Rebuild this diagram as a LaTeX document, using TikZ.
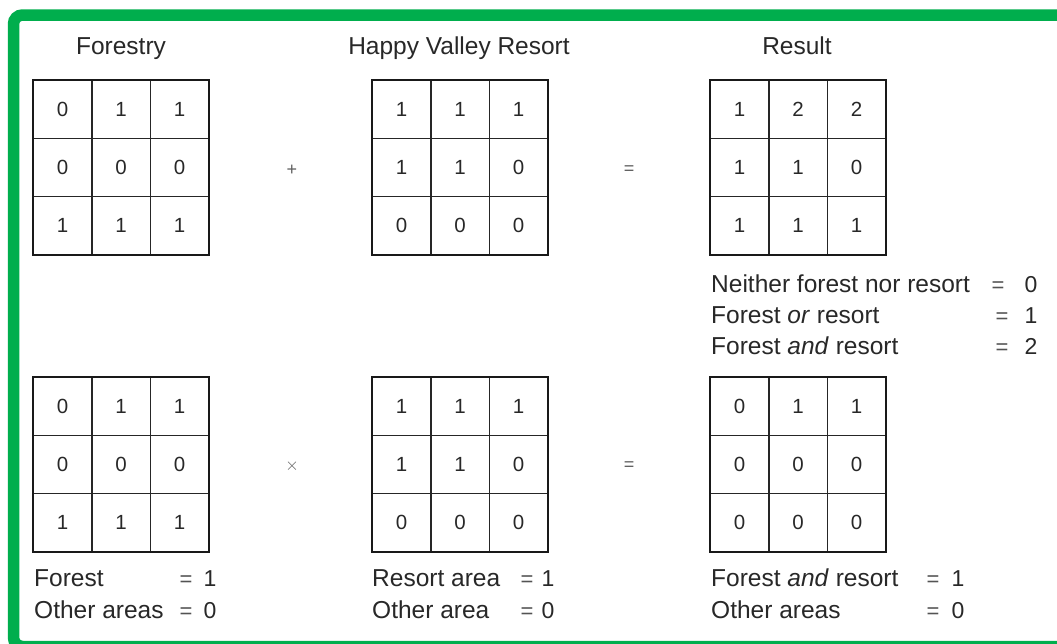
\documentclass[tikz,border=0pt]{standalone}
\usepackage{fontspec}
\setmainfont{Liberation Sans}
\definecolor{framegreen}{RGB}{0,174,77}
\definecolor{ink}{RGB}{40,40,40}
\tikzset{
  gridouter/.style={draw=black!90, line width=2.4pt},
  gridinner/.style={draw=black!85, line width=1.4pt},
  cellval/.style={text=ink, inner sep=0pt, font=\fontsize{20.5}{24}\selectfont},
  lbl/.style={text=ink, inner sep=0pt, anchor=base west, font=\fontsize{24.5}{29}\selectfont},
  eqs/.style={text=ink!80, inner sep=0pt, anchor=base, font=\fontsize{22}{26}\selectfont},
  num/.style={text=ink, inner sep=0pt, anchor=base, font=\fontsize{23}{27}\selectfont},
  ttl/.style={text=ink, inner sep=0pt, anchor=base, font=\fontsize{24.5}{29}\selectfont},
  op/.style={text=ink!75, inner sep=0pt, font=\fontsize{18}{21}\selectfont},
}
% #1 name, #2 left x, #3 top y, #4 nine values row by row
\newcommand{\valgrid}[4]{%
  \draw[gridinner] (#2+59,#3) -- (#2+59,#3+175) (#2+117.5,#3) -- (#2+117.5,#3+175)
                   (#2,#3+58.3) -- (#2+176,#3+58.3) (#2,#3+116.7) -- (#2+176,#3+116.7);
  \draw[gridouter] (#2,#3) rectangle (#2+176,#3+175);
  \foreach \v [count=\i from 0] in {#4} {
    \pgfmathtruncatemacro\rr{\i/3}
    \pgfmathtruncatemacro\cc{mod(\i,3)}
    \node[cellval] (#1-\i) at (#2+29.5+\cc*58.5, #3+29.2+\rr*58.3) {\v};
  }
}
\begin{document}
\begin{tikzpicture}[x=1pt,y=-1pt]
\useasboundingbox (0,0) rectangle (1057,643);
\fill[white] (0,0) rectangle (1057,643);
\begin{scope}
  \clip (0,0) rectangle (1057,643);
  \draw[framegreen, line width=11.5pt, rounded corners=9pt] (13.5,15) rectangle (1090,646.5);
\end{scope}

% column titles
\node[ttl] (tforest) at (121,54) {Forestry};
\node[ttl] (thappy)  at (459,54) {Happy Valley Resort};
\node[ttl] (tresult) at (797,54) {Result};

% addition row
\valgrid{fa}{33}{80}{0,1,1,0,0,0,1,1,1}
\valgrid{ra}{372}{80}{1,1,1,1,1,0,0,0,0}
\valgrid{sa}{710}{80}{1,2,2,1,1,0,1,1,1}
\node[op] (plus) at (292,170) {+};
\node[op] (eqa)  at (629,170) {=};

% legend of the sum
\node[lbl] (l1) at (711,292) {Neither forest nor resort};
\node[eqs] (l1e) at (998,292) {=};
\node[num] (l1v) at (1031,292) {0};
\node[lbl] (l2) at (711,323) {Forest \textit{or} resort};
\node[eqs] (l2e) at (1002,323) {=};
\node[num] (l2v) at (1031,323) {1};
\node[lbl] (l3) at (711,354) {Forest \textit{and} resort};
\node[eqs] (l3e) at (1002,354) {=};
\node[num] (l3v) at (1031,354) {2};

% multiplication row
\valgrid{fb}{33}{377}{0,1,1,0,0,0,1,1,1}
\valgrid{rb}{372}{377}{1,1,1,1,1,0,0,0,0}
\valgrid{pb}{710}{377}{0,1,1,0,0,0,0,0,0}
\node[op] (times) at (292,466) {$\times$};
\node[op] (eqb)   at (629,466) {=};

% legends under the multiplication grids
\node[lbl] (f1) at (34,586) {Forest};
\node[eqs] (f1e) at (186,586) {=};
\node[num] (f1v) at (210,586) {1};
\node[lbl] (f2) at (34,618) {Other areas};
\node[eqs] (f2e) at (186,618) {=};
\node[num] (f2v) at (210,618) {0};

\node[lbl] (r1) at (372,586) {Resort area};
\node[eqs] (r1e) at (527,586) {=};
\node[num] (r1v) at (548,586) {1};
\node[lbl] (r2) at (372,618) {Other area};
\node[eqs] (r2e) at (527,618) {=};
\node[num] (r2v) at (548,618) {0};

\node[lbl] (p1) at (711,586) {Forest \textit{and} resort};
\node[eqs] (p1e) at (933,586) {=};
\node[num] (p1v) at (958,586) {1};
\node[lbl] (p2) at (711,618) {Other areas};
\node[eqs] (p2e) at (933,618) {=};
\node[num] (p2v) at (958,618) {0};
\end{tikzpicture}
\end{document}
